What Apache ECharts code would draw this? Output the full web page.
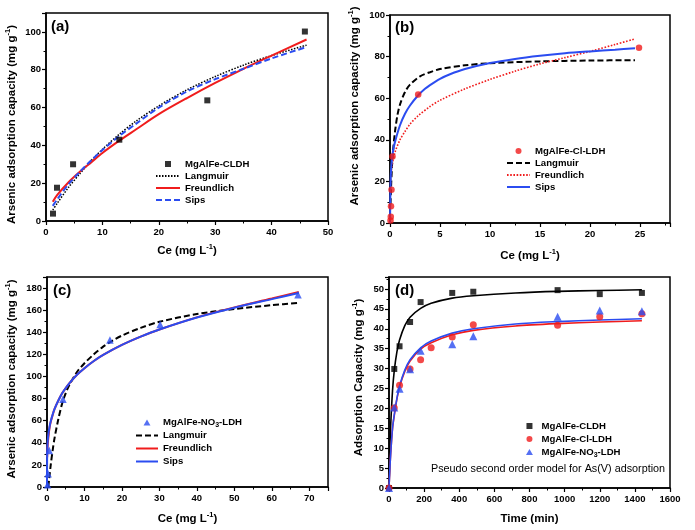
<!DOCTYPE html>
<html><head><meta charset="utf-8">
<script src="https://cdn.jsdelivr.net/npm/echarts/dist/echarts.min.js"></script>
<style>html,body{margin:0;padding:0;background:#fff}#c{width:695px;height:530px}</style>
</head><body><div id="c"></div>
<script>
// ---------- Panel (a): MgAlFe-CLDH isotherm ----------
const aCe = [1.24, 1.95, 4.8, 13.0, 28.6, 45.9];
const aQe = [3.9, 17.6, 30, 43, 63.8, 100.2];
const aFitX = [1.2, 2, 4, 6, 8, 10, 13, 16, 20, 25, 30, 35, 40, 46.2];
const aLangmuir = [5.8, 9.4, 17.8, 25, 31.9, 37.9, 45.9, 52.9, 60.9, 69.4, 76.4, 82.4, 87.5, 93];
const aFreundlich = [10.2, 13.8, 20.5, 26, 31, 36, 42.5, 48.5, 56.5, 65, 73, 80.5, 87.5, 96];
const aSips = [8, 11.5, 19.5, 26, 32, 37.5, 45, 51.5, 60, 68.5, 75, 80.5, 86, 92];

// ---------- Panel (b): MgAlFe-Cl-LDH isotherm ----------
const bCe = [0.05, 0.08, 0.1, 0.15, 0.25, 2.82, 24.9];
const bQe = [1.2, 3, 8, 16, 32, 61.8, 84.3];
const bLangX = [0.05, 0.1, 0.2, 0.3, 0.5, 0.75, 1, 1.5, 2, 3, 4, 5, 7.5, 10, 15, 20, 24.5];
const bLangmuir = [9, 16.5, 27.5, 34.5, 44, 52, 57, 63, 66.5, 70.5, 72.5, 74, 75.8, 76.8, 77.7, 78.1, 78.3];
const bFreuX = [0.05, 0.1, 0.2, 0.5, 1, 1.5, 2, 2.8, 4, 5, 7.5, 10, 12.5, 15, 17.5, 20, 22.5, 24.5];
const bFreundlich = [19, 23, 27.5, 34, 40, 44, 47.5, 51.5, 56, 59, 64.5, 69, 73, 76.5, 79.5, 82.5, 85.8, 88.5];
const bSipsX = [0, 0.01, 0.03, 0.06, 0.1, 0.2, 0.3, 0.5, 1, 1.5, 2, 2.8, 3.5, 4, 5, 6, 7.5, 10, 12.5, 15, 17.5, 20, 22.5, 24.5];
const bSips = [0, 3, 12, 20, 25, 31, 34.5, 39, 47, 52.5, 56.5, 61.3, 64.5, 66.3, 69.3, 71.5, 74, 76.9, 78.9, 80.4, 81.6, 82.5, 83.3, 84];

// ---------- Panel (c): MgAlFe-NO3-LDH isotherm ----------
const cCe = [0.15, 0.3, 0.6, 4.25, 16.8, 30.2, 67];
const cQe = [2, 12, 33, 79.5, 133, 147, 174];
const cLangX = [0.35, 0.6, 1, 1.5, 2, 3, 4, 5, 6, 8, 10, 12.5, 15, 17.5, 20, 25, 30, 40, 50, 60, 67];
const cLangmuir = [0, 8, 20, 33, 44, 61, 75, 85, 92.5, 104, 112, 120, 127, 132.5, 137, 144, 149.5, 156.5, 161, 164.5, 166.5];
const cFitX = [0.05, 0.1, 0.2, 0.4, 0.7, 1, 1.5, 2, 3, 4, 5, 6, 8, 10, 12.5, 15, 20, 25, 30, 40, 50, 60, 67.2];
const cFreundlich = [27, 32.5, 39, 46, 54, 59, 65, 70.5, 78, 84.5, 89.5, 94, 101.5, 107.5, 114, 119.5, 128.5, 136, 142.5, 153.5, 162.5, 170.5, 176.5];
const cSipsX = [0, 0.005, 0.02, 0.05, 0.1, 0.2, 0.4, 0.7, 1, 1.5, 2, 3, 4, 5, 6, 8, 10, 12.5, 15, 20, 25, 30, 40, 50, 60, 67.2];
const cSips = [0, 8, 20, 30, 36, 42, 48.5, 55, 59.5, 65.5, 70.5, 78, 84.5, 89.5, 94, 101.5, 107.5, 114, 119.5, 128.5, 136, 142.5, 153.3, 162.2, 170, 175.5];

// ---------- Panel (d): kinetics ----------
const dTimeCLDH = [0, 30, 60, 120, 180, 360, 480, 960, 1200, 1440];
const dQCLDH = [0, 29.9, 35.6, 41.7, 46.7, 49, 49.3, 49.7, 48.7, 49];
const dTimeCl = [0, 30, 60, 120, 180, 240, 360, 480, 960, 1200, 1440];
const dQCl = [0, 20.1, 25.8, 29.9, 32.2, 35.2, 37.9, 41, 40.9, 43, 43.8];
const dTimeNO3 = [0, 30, 60, 120, 180, 360, 480, 960, 1200, 1440];
const dQNO3 = [0, 20.2, 24.9, 29.8, 34.5, 36.1, 38.1, 43, 44.6, 44.4];
const dFitT = [0, 5, 10, 20, 30, 45, 60, 90, 120, 180, 240, 360, 480, 720, 960, 1200, 1440];
const dFitCLDH = [0, 9.6, 16.1, 24.4, 29.5, 34.2, 37.2, 40.8, 42.9, 45.1, 46.4, 47.7, 48.3, 49.0, 49.4, 49.6, 49.8];
const dFitCl = [0, 4.9, 8.9, 14.9, 18.2, 22.3, 25.4, 29.3, 31.9, 34.9, 36.5, 38.5, 39.6, 40.7, 41.3, 41.7, 42];
const dFitNO3 = [0, 4.9, 8.9, 15, 18.4, 22.5, 25.6, 29.6, 32.2, 35.2, 36.9, 38.9, 40, 41.2, 41.8, 42.2, 42.5];

const FONT = '"Liberation Sans", Arial, Helvetica, sans-serif';
const BLACK = '#000', RED = '#f01c1c', BLUE = '#2b4cf0';

function pairs(xs, ys) { return xs.map((x, i) => [x, ys[i]]); }

const richName = {
  n: { fontFamily: FONT, fontWeight: 'bold', fontSize: 11.5, color: '#000', lineHeight: 15 },
  s: { fontFamily: FONT, fontWeight: 'bold', fontSize: 7.5, color: '#000', lineHeight: 8, verticalAlign: 'top' }
};

function axis(gi, max, interval, name, gap, isY, pad) {
  return {
    type: 'value', gridIndex: gi, min: 0, max: max, interval: interval,
    name: name, nameLocation: 'middle', nameGap: gap,
    nameTextStyle: { rich: richName, padding: pad || 0 },
    axisLine: { show: true, onZero: false, lineStyle: { color: '#000', width: 1.5 } },
    axisTick: { show: true, length: 4, lineStyle: { color: '#000', width: 1.2 } },
    minorTick: { show: true, splitNumber: 2, length: 2.5, lineStyle: { color: '#000', width: 1 } },
    splitLine: { show: false },
    axisLabel: {
      color: '#000', fontFamily: FONT, fontWeight: 'bold', fontSize: 9.5, margin: isY ? 5 : 6,
      formatter: v => (Math.abs(v / interval - Math.round(v / interval)) < 1e-6 ? String(v) : '')
    }
  };
}

const ceName = '{n|Ce (mg L}{s|-1}{n|)}';
const qName = '{n|Arsenic adsorption capacity (mg g}{s|-1}{n|)}';

function lineS(name, xi, xs, ys, color, width, type) {
  return {
    type: 'line', name: name, xAxisIndex: xi, yAxisIndex: xi,
    data: pairs(xs, ys), showSymbol: false, symbol: 'none',
    smooth: 0.3,
    lineStyle: { color: color, width: width, type: type || 'solid' },
    itemStyle: { color: color, opacity: 0 }, z: 3
  };
}
function scat(name, xi, xs, ys, symbol, size, color) {
  return {
    type: 'scatter', name: name, xAxisIndex: xi, yAxisIndex: xi,
    data: pairs(xs, ys), symbol: symbol, symbolSize: size,
    itemStyle: { color: color }, z: 4
  };
}

const SQ = 'path://M0,0h10v10h-10z';
const TRI = 'path://M5,0L10,8.66L0,8.66Z';
const legendText = (lh) => ({
  fontFamily: FONT, fontWeight: 'bold', fontSize: 9.6, color: '#000', lineHeight: lh,
  rich: {
    n: { fontFamily: FONT, fontWeight: 'bold', fontSize: 9.6, color: '#000', lineHeight: lh },
    b: { fontFamily: FONT, fontWeight: 'bold', fontSize: 7, color: '#000', lineHeight: 7, verticalAlign: 'bottom' }
  }
});
const legFmt = name => {
  const t = name.split('|')[1];
  if (t.indexOf('NO3') >= 0) return '{n|MgAlFe-NO}{b|3}{n|-LDH}';
  return '{n|' + t + '}';
};
const L = name => ({ name: name, itemStyle: { opacity: 0 } });
function legend(left, top, iw, lh, items) {
  return {
    orient: 'vertical', left: left, top: top, itemWidth: iw, itemHeight: 6, itemGap: 0,
    padding: 0, selectedMode: false, textStyle: legendText(lh), formatter: legFmt, data: items
  };
}

const option = {
  animation: false,
  backgroundColor: '#fff',
  title: [
    { text: '(a)', left: 51, top: 19, padding: 0, textStyle: { fontFamily: FONT, fontWeight: 'bold', fontSize: 15, color: '#000' } },
    { text: '(b)', left: 395, top: 20, padding: 0, textStyle: { fontFamily: FONT, fontWeight: 'bold', fontSize: 15, color: '#000' } },
    { text: '(c)', left: 53, top: 283, padding: 0, textStyle: { fontFamily: FONT, fontWeight: 'bold', fontSize: 15, color: '#000' } },
    { text: '(d)', left: 395, top: 283, padding: 0, textStyle: { fontFamily: FONT, fontWeight: 'bold', fontSize: 15, color: '#000' } },
    { text: 'Pseudo second order model for As(V) adsorption', left: 431, top: 464, padding: 0,
      textStyle: { fontFamily: FONT, fontWeight: 'normal', fontSize: 10.8, color: '#000' } }
  ],
  grid: [
    { left: 46, top: 13, width: 282, height: 208, show: true, borderColor: '#000', borderWidth: 1.5 },
    { left: 390, top: 15, width: 280, height: 208, show: true, borderColor: '#000', borderWidth: 1.5 },
    { left: 47, top: 277, width: 281, height: 210, show: true, borderColor: '#000', borderWidth: 1.5 },
    { left: 389, top: 277, width: 281, height: 211, show: true, borderColor: '#000', borderWidth: 1.5 }
  ],
  xAxis: [
    axis(0, 50, 10, ceName, 22, false),
    axis(1, 28, 5, ceName, 25, false),
    axis(2, 75, 10, ceName, 24, false),
    axis(3, 1600, 200, '{n|Time (min)}', 23, false)
  ],
  yAxis: [
    axis(0, 110, 20, qName, 27, true, [0, 15, 0, 0]),
    axis(1, 100, 20, qName, 28, true, [0, 0, 0, 26]),
    axis(2, 190, 20, qName, 28, true, [0, 0, 0, 6]),
    axis(3, 53, 5, '{n|Adsorption Capacity (mg g}{s|-1}{n|)}', 23, true, [0, 0, 0, 10])
  ],
  legend: [
    legend(155, 158, 24, 12, [{ name: 'a|MgAlFe-CLDH', icon: SQ }, L('a|Langmuir'), L('a|Freundlich'), L('a|Sips')]),
    legend(506, 145, 23, 12, [{ name: 'b|MgAlFe-Cl-LDH', icon: 'circle' }, L('b|Langmuir'), L('b|Freundlich'), L('b|Sips')]),
    legend(135, 416, 22, 13, [{ name: 'c|MgAlFe-NO3-LDH', icon: TRI }, L('c|Langmuir'), L('c|Freundlich'), L('c|Sips')]),
    legend(526, 419.5, 14, 13, [{ name: 'd|MgAlFe-CLDH', icon: SQ }, { name: 'd|MgAlFe-Cl-LDH', icon: 'circle' }, { name: 'd|MgAlFe-NO3-LDH', icon: TRI }])
  ],
  series: [
    // (a)
    lineS('a|Langmuir', 0, aFitX, aLangmuir, BLACK, 1.5, [1.5, 1.5]),
    lineS('a|Freundlich', 0, aFitX, aFreundlich, RED, 2),
    lineS('a|Sips', 0, aFitX, aSips, BLUE, 2, [6, 3]),
    scat('a|MgAlFe-CLDH', 0, aCe, aQe, 'rect', 6, BLACK),
    // (b)
    lineS('b|Langmuir', 1, bLangX, bLangmuir, BLACK, 2, [6, 3]),
    lineS('b|Freundlich', 1, bFreuX, bFreundlich, RED, 1.6, [1.6, 1.6]),
    lineS('b|Sips', 1, bSipsX, bSips, BLUE, 2),
    scat('b|MgAlFe-Cl-LDH', 1, bCe, bQe, 'circle', 6.5, RED),
    // (c)
    lineS('c|Langmuir', 2, cLangX, cLangmuir, BLACK, 2, [6, 3]),
    lineS('c|Freundlich', 2, cFitX, cFreundlich, RED, 2),
    lineS('c|Sips', 2, cSipsX, cSips, BLUE, 2),
    scat('c|MgAlFe-NO3-LDH', 2, cCe, cQe, 'triangle', 7.5, BLUE),
    // (d)
    lineS('d|fitCLDH', 3, dFitT, dFitCLDH, BLACK, 1.6),
    lineS('d|fitCl', 3, dFitT, dFitCl, RED, 1.6),
    lineS('d|fitNO3', 3, dFitT, dFitNO3, BLUE, 1.6),
    scat('d|MgAlFe-CLDH', 3, dTimeCLDH, dQCLDH, 'rect', 6, BLACK),
    scat('d|MgAlFe-Cl-LDH', 3, dTimeCl, dQCl, 'circle', 7, RED),
    scat('d|MgAlFe-NO3-LDH', 3, dTimeNO3, dQNO3, 'triangle', 8, BLUE)
  ]
};

const chart = echarts.init(document.getElementById('c'), null, { renderer: 'canvas' });
chart.setOption(option);
</script></body></html>
